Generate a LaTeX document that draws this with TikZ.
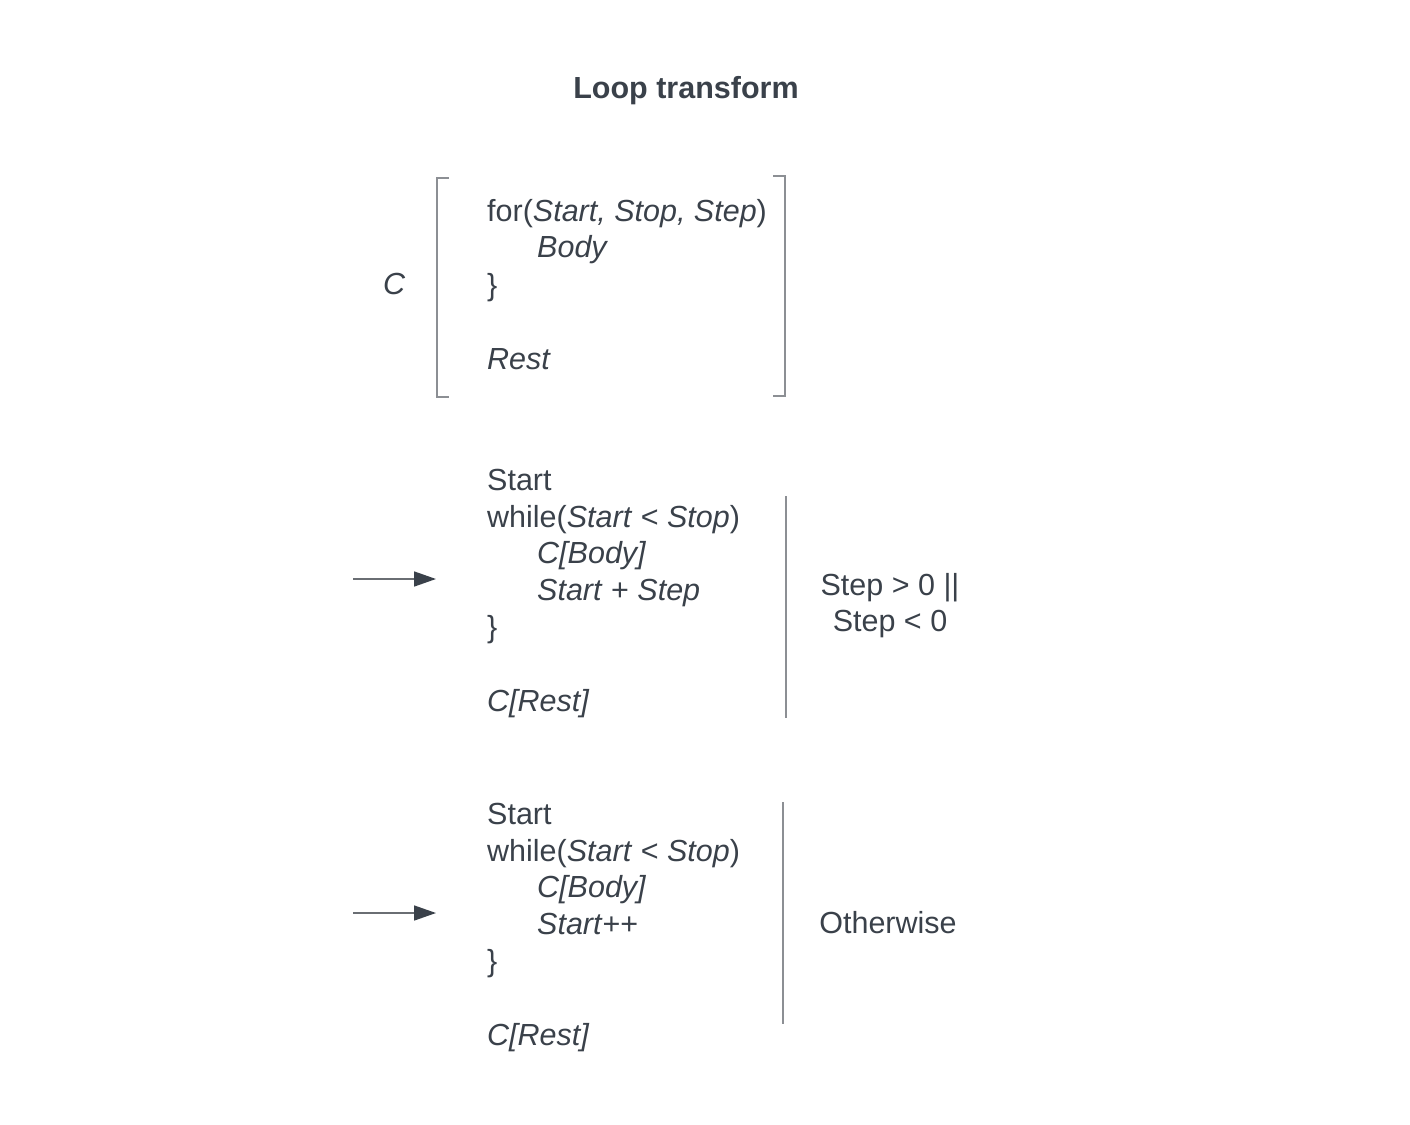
\documentclass[tikz,border=0pt]{standalone}
\usepackage{fontspec}
\setmainfont{Liberation Sans}
\usetikzlibrary{arrows.meta}
\definecolor{txt}{HTML}{3A414A}
\definecolor{ln}{HTML}{8C8F94}
\definecolor{arl}{HTML}{6A6E73}
\begin{document}
\begin{tikzpicture}[x=1pt,y=-1pt,
  code/.style={anchor=base west,inner sep=0pt,text=txt,font=\fontsize{30.5}{37}\selectfont},
  lab/.style={anchor=base,inner sep=0pt,text=txt,font=\fontsize{30.5}{37}\selectfont},
  bar/.style={draw=ln,line width=1.6pt},
  arr/.style={draw=arl,line width=1.6pt,-{Triangle[length=22pt,width=15pt,fill=txt,color=txt]}}]
\useasboundingbox (0,0) rectangle (1410,1124);
% title
\node[lab,font=\bfseries\fontsize{30.5}{37}\selectfont] (title) at (686,98) {Loop transform};
% block 1
\node[code,font=\itshape\fontsize{30.5}{37}\selectfont] (C) at (383,294) {C};
\node[code] (l11) at (487,221) {for(\textit{Start, Stop, Step})};
\node[code] (l12) at (537,257) {\textit{Body}};
\node[code] (l13) at (487,295) {\}};
\node[code] (l14) at (487,369) {\textit{Rest}};
\coordinate (b1tl) at (449,178);
\coordinate (b1l) at (437,178);
\coordinate (b1bl) at (437,397);
\coordinate (b1br0) at (449,397);
\draw[bar] (b1tl) -- (b1l) -- (b1bl) -- (b1br0);
\coordinate (b2t0) at (773,176);
\coordinate (b2t) at (785,176);
\coordinate (b2b) at (785,396);
\coordinate (b2b0) at (773,396);
\draw[bar] (b2t0) -- (b2t) -- (b2b) -- (b2b0);
% block 2
\node[code] (l21) at (487,490) {Start};
\node[code] (l22) at (487,527) {while(\textit{Start} < \textit{Stop})};
\node[code] (l23) at (537,563) {\textit{C[Body]}};
\node[code] (l24) at (537,600) {\textit{Start} + \textit{Step}};
\node[code] (l25) at (487,637) {\}};
\node[code] (l26) at (487,711) {\textit{C[Rest]}};
\coordinate (v1t) at (786,496);
\coordinate (v1b) at (786,718);
\draw[bar] (v1t) -- (v1b);
\node[lab] (c1a) at (890,595) {Step > 0 ||};
\node[lab] (c1b) at (890,631) {Step < 0};
\coordinate (a1s) at (353,579);
\coordinate (a1e) at (436,579);
\draw[arr] (a1s) -- (a1e);
% block 3
\node[code] (l31) at (487,824) {Start};
\node[code] (l32) at (487,861) {while(\textit{Start} < \textit{Stop})};
\node[code] (l33) at (537,897) {\textit{C[Body]}};
\node[code] (l34) at (537,934) {\textit{Start}++};
\node[code] (l35) at (487,971) {\}};
\node[code] (l36) at (487,1045) {\textit{C[Rest]}};
\coordinate (v2t) at (783,802);
\coordinate (v2b) at (783,1024);
\draw[bar] (v2t) -- (v2b);
\node[lab] (c2) at (888,933) {Otherwise};
\coordinate (a2s) at (353,913);
\coordinate (a2e) at (436,913);
\draw[arr] (a2s) -- (a2e);
\end{tikzpicture}
\end{document}
